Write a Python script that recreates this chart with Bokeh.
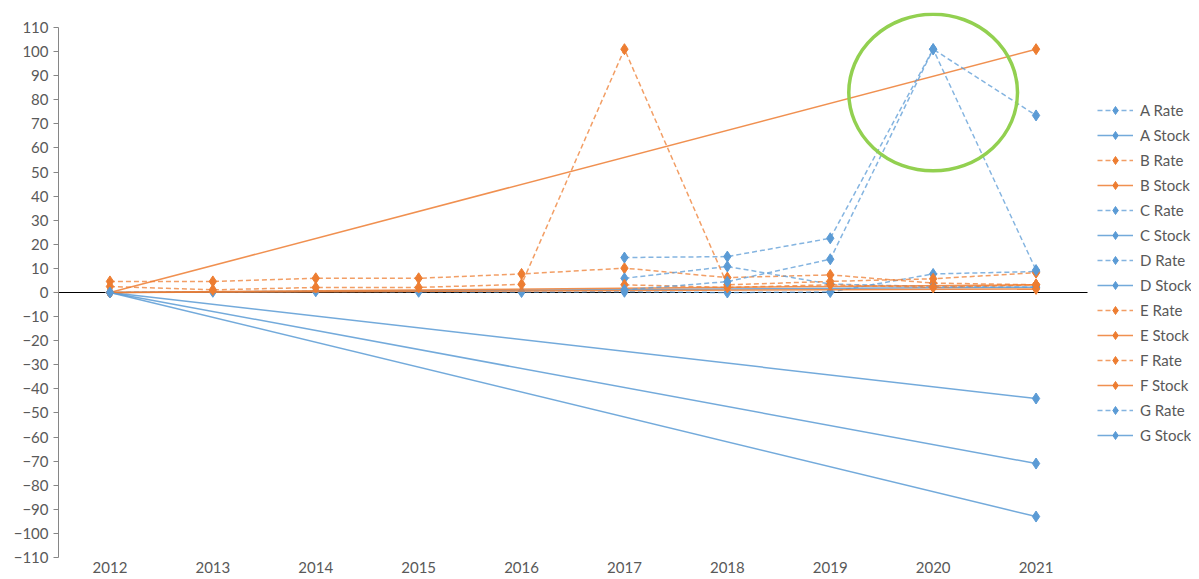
import math
from bokeh.plotting import figure
from bokeh.models import (Range1d, FixedTicker, Legend, LegendItem)
from bokeh.embed import file_html
from bokeh.resources import INLINE

nan = float("nan")
years = [2012, 2013, 2014, 2015, 2016, 2017, 2018, 2019, 2020, 2021]

a_rate = [0.0, 0.3, 0.5, 0.3, 0.2, 0.3, 0.0, 0.2, 7.7, 8.7]
a_stock = [0.0, nan, nan, nan, nan, nan, nan, nan, nan, -44.0]
b_rate = [4.6, 4.6, 5.9, 5.9, 7.7, 10.1, 6.2, 7.3, 3.9, 3.2]
b_stock = [0.0, nan, nan, nan, nan, nan, nan, nan, nan, 101.0]
c_rate = [nan, nan, nan, nan, nan, 14.5, 14.9, 22.5, 101.0, 73.5]
c_stock = [0.0, nan, nan, nan, nan, nan, nan, nan, nan, -71.0]
d_rate = [nan, nan, nan, nan, nan, 5.9, 10.8, 3.5, 2.5, 2.2]
d_stock = [0.0, nan, nan, nan, nan, nan, nan, nan, nan, 2.2]
e_rate = [2.5, 1.1, 2.1, 2.1, 3.4, 101.0, 3.2, 4.6, 5.7, 8.2]
e_stock = [0.0, nan, nan, nan, nan, nan, nan, nan, nan, 3.2]
f_rate = [nan, nan, nan, nan, nan, 3.2, 2.1, 3.2, 2.1, 3.2]
f_stock = [0.0, nan, nan, nan, nan, nan, nan, nan, nan, 1.5]
g_rate = [nan, nan, nan, nan, nan, 1.1, 4.5, 13.8, 101.0, 9.3]
g_stock = [0.0, nan, nan, nan, nan, nan, nan, nan, nan, -93.0]

y_min, y_max = -110, 110
y_ticks = list(range(y_min, y_max + 1, 10))

# highlight circle (annotation)
highlight_x = 2020
highlight_y = 83
highlight_w = 1.64
highlight_h = 65

BLUE = "#5B9BD5"
ORANGE = "#ED7D31"
FONT = "Lato"

series = [
    ("A Rate", a_rate, BLUE, "dashed"),
    ("A Stock", a_stock, BLUE, "solid"),
    ("B Rate", b_rate, ORANGE, "dashed"),
    ("B Stock", b_stock, ORANGE, "solid"),
    ("C Rate", c_rate, BLUE, "dashed"),
    ("C Stock", c_stock, BLUE, "solid"),
    ("D Rate", d_rate, BLUE, "dashed"),
    ("D Stock", d_stock, BLUE, "solid"),
    ("E Rate", e_rate, ORANGE, "dashed"),
    ("E Stock", e_stock, ORANGE, "solid"),
    ("F Rate", f_rate, ORANGE, "dashed"),
    ("F Stock", f_stock, ORANGE, "solid"),
    ("G Rate", g_rate, BLUE, "dashed"),
    ("G Stock", g_stock, BLUE, "solid"),
]

# layout geometry (pixels)
W, H = 1191, 579
LEFT, RIGHT = 58, 0
axis_top_px, axis_bottom_px = 27, 557      # where +110 / -110 sit
TOP = 12                                    # frame top (room for the circle)
BOTTOM = H - axis_bottom_px
data_right = 1087                           # right end of the category area
x_lo, x_hi = years[0] - 0.5, years[-1] + 0.5
px_per_year = (data_right - LEFT) / (x_hi - x_lo)
frame_w = W - LEFT - RIGHT
x_end = x_lo + frame_w / px_per_year
px_per_unit = (axis_bottom_px - axis_top_px) / (y_max - y_min)
y_end = y_max + (axis_top_px - TOP) / px_per_unit

p = figure(width=W, height=H, output_backend="svg", toolbar_location=None,
           x_range=Range1d(x_lo, x_end), y_range=Range1d(y_min, y_end),
           min_border_left=LEFT, min_border_top=TOP, min_border_bottom=BOTTOM,
           min_border_right=RIGHT)
p.outline_line_color = None
p.xgrid.visible = False
p.ygrid.visible = False

# zero (category) axis line, only across the category area
p.line([x_lo, x_hi], [0, 0], line_color="black", line_width=1)

items = []
for name, vals, color, style in series:
    xs = [x for x, v in zip(years, vals) if not math.isnan(v)]
    ys = [v for v in vals if not math.isnan(v)]
    if style == "dashed":
        ln = p.line(xs, ys, line_color=color, line_width=1.5, line_dash="5 3", line_alpha=0.75)
    else:
        ln = p.line(xs, ys, line_color=color, line_width=1.5, line_alpha=0.85)
    sc = p.scatter(xs, ys, marker="diamond", size=11,
                   fill_color=color, line_color=color)
    items.append(LegendItem(label=name, renderers=[ln, sc]))

p.ellipse(x=[highlight_x], y=[highlight_y], width=[highlight_w], height=[highlight_h],
          fill_color=None, line_color="#92D050", line_width=3.5)

# axes
p.yaxis.ticker = FixedTicker(ticks=y_ticks)
p.yaxis.bounds = (y_min, y_max)
p.yaxis.axis_line_color = "#868686"
p.yaxis.major_tick_line_color = "#868686"
p.yaxis.major_tick_out = 5
p.yaxis.major_tick_in = 0
p.yaxis.minor_tick_line_color = None
p.yaxis.major_label_text_font = FONT
p.yaxis.major_label_text_font_size = "15px"
p.yaxis.major_label_text_color = "#595959"

p.xaxis.ticker = FixedTicker(ticks=years)
p.xaxis.major_label_overrides = {y: str(y) for y in years}
p.xaxis.axis_line_color = None
p.xaxis.major_tick_line_color = None
p.xaxis.major_tick_out = 0
p.xaxis.major_tick_in = 0
p.xaxis.minor_tick_line_color = None
p.xaxis.major_label_text_font = FONT
p.xaxis.major_label_text_font_size = "15px"
p.xaxis.major_label_text_color = "#595959"
p.xaxis.major_label_standoff = 4

legend_h = 20 * len(items) + 5 * (len(items) - 1)
legend_top_px = 100
legend_left = 1097 - LEFT
legend = Legend(items=items,
                location=(legend_left, axis_bottom_px - (legend_top_px + legend_h)),
                border_line_color=None, background_fill_alpha=0,
                label_text_font=FONT, label_text_font_size="15px",
                label_text_color="#595959",
                glyph_width=36, glyph_height=20, label_height=20, spacing=5,
                padding=0, margin=0, label_standoff=7)
p.add_layout(legend)

open("out.html", "w").write(file_html(p, INLINE))
